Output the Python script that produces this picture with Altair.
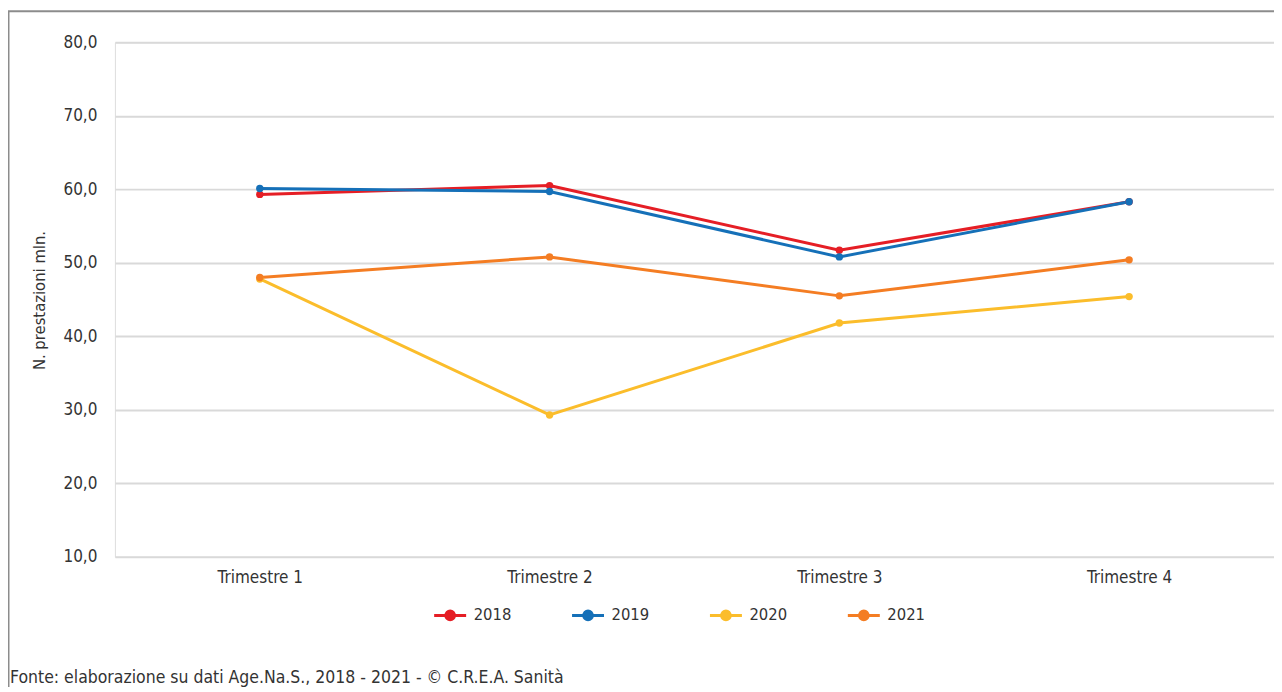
import altair as alt
import pandas as pd

quarters = ["Trimestre 1", "Trimestre 2", "Trimestre 3", "Trimestre 4"]
years = ["2018", "2019", "2020", "2021"]
v2018 = [59.3, 60.5, 51.7, 58.3]
v2019 = [60.1, 59.7, 50.8, 58.3]
v2020 = [47.8, 29.3, 41.8, 45.4]
v2021 = [48.0, 50.8, 45.5, 50.4]
colors = ["#E51E25", "#1570B8", "#FBBD2B", "#F47D23"]
y_ticks = [10, 20, 30, 40, 50, 60, 70, 80]
footer = "Fonte: elaborazione su dati Age.Na.S., 2018 - 2021 - © C.R.E.A. Sanità"

rows = []
for yr, vals in zip(years, [v2018, v2019, v2020, v2021]):
    for q, v in zip(quarters, vals):
        rows.append({"Trimestre": q, "Anno": yr, "Valore": v})
df = pd.DataFrame(rows)

FONT = "DejaVu Sans Condensed, Roboto, sans-serif"
TXT = "#333333"

x_enc = alt.X("Trimestre:N", sort=quarters,
              scale=alt.Scale(type="point", padding=0.5),
              axis=alt.Axis(title=None, labelAngle=0, labelFontSize=17, labelColor=TXT,
                            labelFont=FONT, domain=False, ticks=False, labelPadding=13, grid=False))
y_enc = alt.Y("Valore:Q", scale=alt.Scale(domain=[10, 80], nice=False, zero=False),
              axis=alt.Axis(values=y_ticks, title="N.  prestazioni mln.",
                            labelExpr="replace(format(datum.value, '.1f'), '.', ',')",
                            labelFontSize=17, labelColor=TXT, labelFont=FONT, labelPadding=18,
                            domain=False, ticks=False, grid=True, gridColor="#d9d9d9", gridWidth=2,
                            titleFont=FONT, titleFontSize=16.5, titleFontWeight="normal",
                            titleColor=TXT, titleX=-75, titleY=258, titleAngle=-90,
                            titleAlign="center", titleBaseline="middle"))

legend_path = "M-1,0H1M0.27,0A0.27,0.27,0,1,1,-0.27,0A0.27,0.27,0,1,1,0.27,0Z"
color_enc = alt.Color("Anno:N", sort=years,
                      scale=alt.Scale(domain=years, range=colors),
                      legend=alt.Legend(title=None, orient="none", direction="horizontal",
                                        legendX=318, legendY=556,
                                        symbolType=legend_path, symbolSize=1024,
                                        symbolStrokeWidth=3, labelFontSize=16.5, labelFont=FONT,
                                        labelColor=TXT, labelOffset=6, columnPadding=54))

base = alt.Chart(df)
lines = base.mark_line(strokeWidth=3).encode(x=x_enc, y=y_enc, color=color_enc)
points = base.mark_point(filled=True, size=55, opacity=1).encode(x=x_enc, y=y_enc, color=color_enc)

foot = alt.Chart(pd.DataFrame({"t": [footer]})).mark_text(
    align="left", baseline="middle", fontSize=17.5, font=FONT, color=TXT
).encode(text="t:N", x=alt.value(-105), y=alt.value(636))

border_left = alt.Chart(pd.DataFrame({"a": [0]})).mark_rule(color="#8c8c8c", strokeWidth=2).encode(
    x=alt.value(-106.5), y=alt.value(-31), y2=alt.value(660))
border_top = alt.Chart(pd.DataFrame({"a": [0]})).mark_rule(color="#8c8c8c", strokeWidth=2).encode(
    x=alt.value(-107), x2=alt.value(1175), y=alt.value(-31))

chart = alt.layer(border_left, border_top, lines, points, foot).properties(
    width=1160, height=515,
    autosize=alt.AutoSizeParams(type="none"),
    padding={"left": 107, "top": 34, "right": 0, "bottom": 130},
).configure_view(stroke=None).configure(background="white")

chart.save("out.html", embed_options={"renderer": "svg", "actions": False})
